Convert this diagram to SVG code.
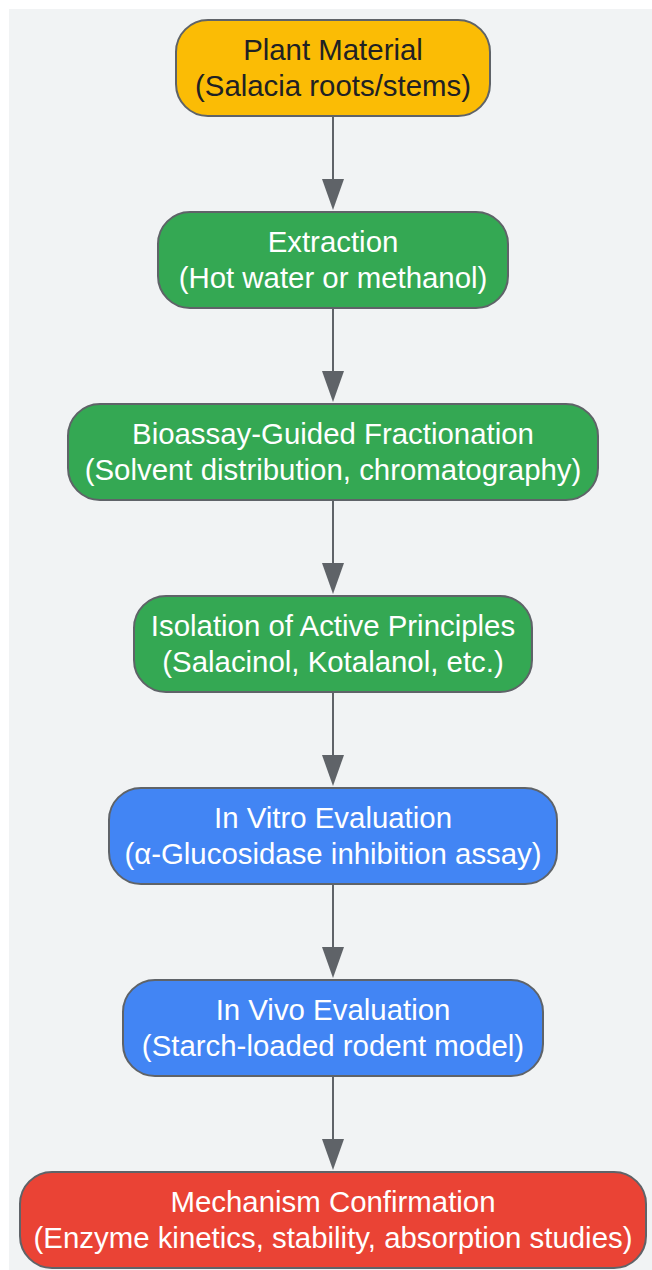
<svg xmlns="http://www.w3.org/2000/svg" width="652" height="1270" viewBox="0 0 652 1270">
<defs>
<style>
.bg{fill:#F1F3F4}
.n{stroke:#5F6368;stroke-width:2}
.y{fill:#FBBC05}
.g{fill:#34A853}
.b{fill:#4285F4}
.r{fill:#EA4335}
text{font-family:"Liberation Sans",Arial,sans-serif;font-size:29.4px;text-anchor:middle}
.dk{fill:#202124}
.wt{fill:#FFFFFF}
.e{stroke:#5F6368;stroke-width:2;fill:none}
.h{fill:#5F6368}
</style>
</defs>
<rect class="bg" x="9" y="9" width="643" height="1261"/>
<g id="edges">
<path class="e" d="M333,116 V180"/><path class="h" d="M322,179 L344,179 L333,210 Z"/>
<path class="e" d="M333,308 V372"/><path class="h" d="M322,371 L344,371 L333,402 Z"/>
<path class="e" d="M333,500 V564"/><path class="h" d="M322,563 L344,563 L333,594 Z"/>
<path class="e" d="M333,692 V756"/><path class="h" d="M322,755 L344,755 L333,786 Z"/>
<path class="e" d="M333,884 V948"/><path class="h" d="M322,947 L344,947 L333,978 Z"/>
<path class="e" d="M333,1076 V1140"/><path class="h" d="M322,1139 L344,1139 L333,1170 Z"/>
</g>
<g id="n1"><rect class="n y" x="176" y="20" width="314" height="96" rx="32"/><text class="dk" x="333" y="60">Plant Material</text><text class="dk" x="333" y="96">(Salacia roots/stems)</text></g>
<g id="n2"><rect class="n g" x="158" y="212" width="350" height="96" rx="32"/><text class="wt" x="333" y="252">Extraction</text><text class="wt" x="333" y="288">(Hot water or methanol)</text></g>
<g id="n3"><rect class="n g" x="68" y="404" width="530" height="96" rx="32"/><text class="wt" x="333" y="444">Bioassay-Guided Fractionation</text><text class="wt" x="333" y="480">(Solvent distribution, chromatography)</text></g>
<g id="n4"><rect class="n g" x="134" y="596" width="398" height="96" rx="32"/><text class="wt" x="333" y="636">Isolation of Active Principles</text><text class="wt" x="333" y="672">(Salacinol, Kotalanol, etc.)</text></g>
<g id="n5"><rect class="n b" x="109" y="788" width="448" height="96" rx="32"/><text class="wt" x="333" y="828">In Vitro Evaluation</text><text class="wt" x="333" y="864">(α-Glucosidase inhibition assay)</text></g>
<g id="n6"><rect class="n b" x="123" y="980" width="420" height="96" rx="32"/><text class="wt" x="333" y="1020">In Vivo Evaluation</text><text class="wt" x="333" y="1056">(Starch-loaded rodent model)</text></g>
<g id="n7"><rect class="n r" x="20" y="1172" width="626" height="96" rx="32"/><text class="wt" x="333" y="1212">Mechanism Confirmation</text><text class="wt" x="333" y="1248">(Enzyme kinetics, stability, absorption studies)</text></g>
</svg>
